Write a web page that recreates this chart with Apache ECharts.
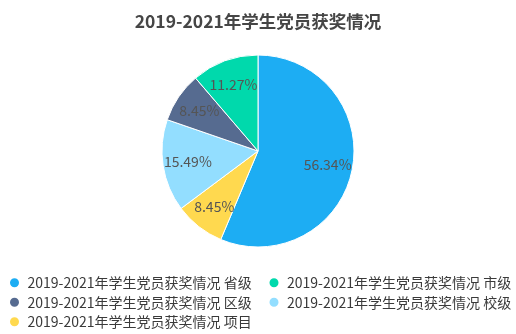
<!DOCTYPE html>
<html>
<head>
<meta charset="utf-8">
<script src="https://cdn.jsdelivr.net/npm/echarts@6/dist/echarts.min.js"></script>
<style>html,body{margin:0;padding:0;background:#fff}#c{width:516px;height:334px}</style>
</head>
<body>
<div id="c"></div>
<script>
const titleText = '2019-2021年学生党员获奖情况';
const prefix = '2019-2021年学生党员获奖情况 ';
const categories = ['省级', '项目', '校级', '区级', '市级'];
const values = [56.34, 8.45, 15.49, 8.45, 11.27];
const colors = ['#1DADF3', '#FFD94F', '#93DEFF', '#566B90', '#00D9AC'];
const legendOrder = ['省级', '市级', '区级', '校级', '项目'];

const FONT = '"Noto Sans CJK SC", "Noto Sans", sans-serif';
const data = categories.map((c, i) => ({ name: prefix + c, value: values[i], itemStyle: { color: colors[i] } }));

const chart = echarts.init(document.getElementById('c'), null, { renderer: 'canvas' });
chart.setOption({
  animation: false,
  title: {
    text: titleText, left: 'center', top: 8,
    textStyle: { fontFamily: FONT, fontSize: 17.5, fontWeight: 'bold', color: '#464646' }
  },
  legend: {
    data: legendOrder.map(c => prefix + c),
    left: 3, bottom: 0, width: 525,
    orient: 'horizontal',
    icon: 'circle', itemWidth: 16, itemHeight: 11, itemGap: 5,
    textStyle: { fontFamily: FONT, fontSize: 14, color: '#3a3a3a', width: 235, lineHeight: 14.5 }
  },
  series: [
    {
      type: 'pie', center: ['50%', 151], radius: [0, 96],
      startAngle: 90, clockwise: true,
      avoidLabelOverlap: false,
      label: { show: false },
      labelLine: { show: false },
      itemStyle: { borderColor: '#fff', borderWidth: 1 },
      data: data
    },
    {
      type: 'pie', center: ['50%', 151], radius: [40, 96],
      startAngle: 90, clockwise: true, silent: true,
      avoidLabelOverlap: false,
      label: {
        show: true, position: 'inside', formatter: p => p.value.toFixed(2) + '%',
        fontFamily: FONT, fontSize: 14, color: '#555'
      },
      labelLine: { show: false },
      itemStyle: { color: 'rgba(0,0,0,0)', borderWidth: 0 },
      emphasis: { disabled: true },
      data: data.map(d => ({ name: d.name, value: d.value, itemStyle: { color: 'rgba(0,0,0,0)' } }))
    }
  ]
});
</script>
</body>
</html>
